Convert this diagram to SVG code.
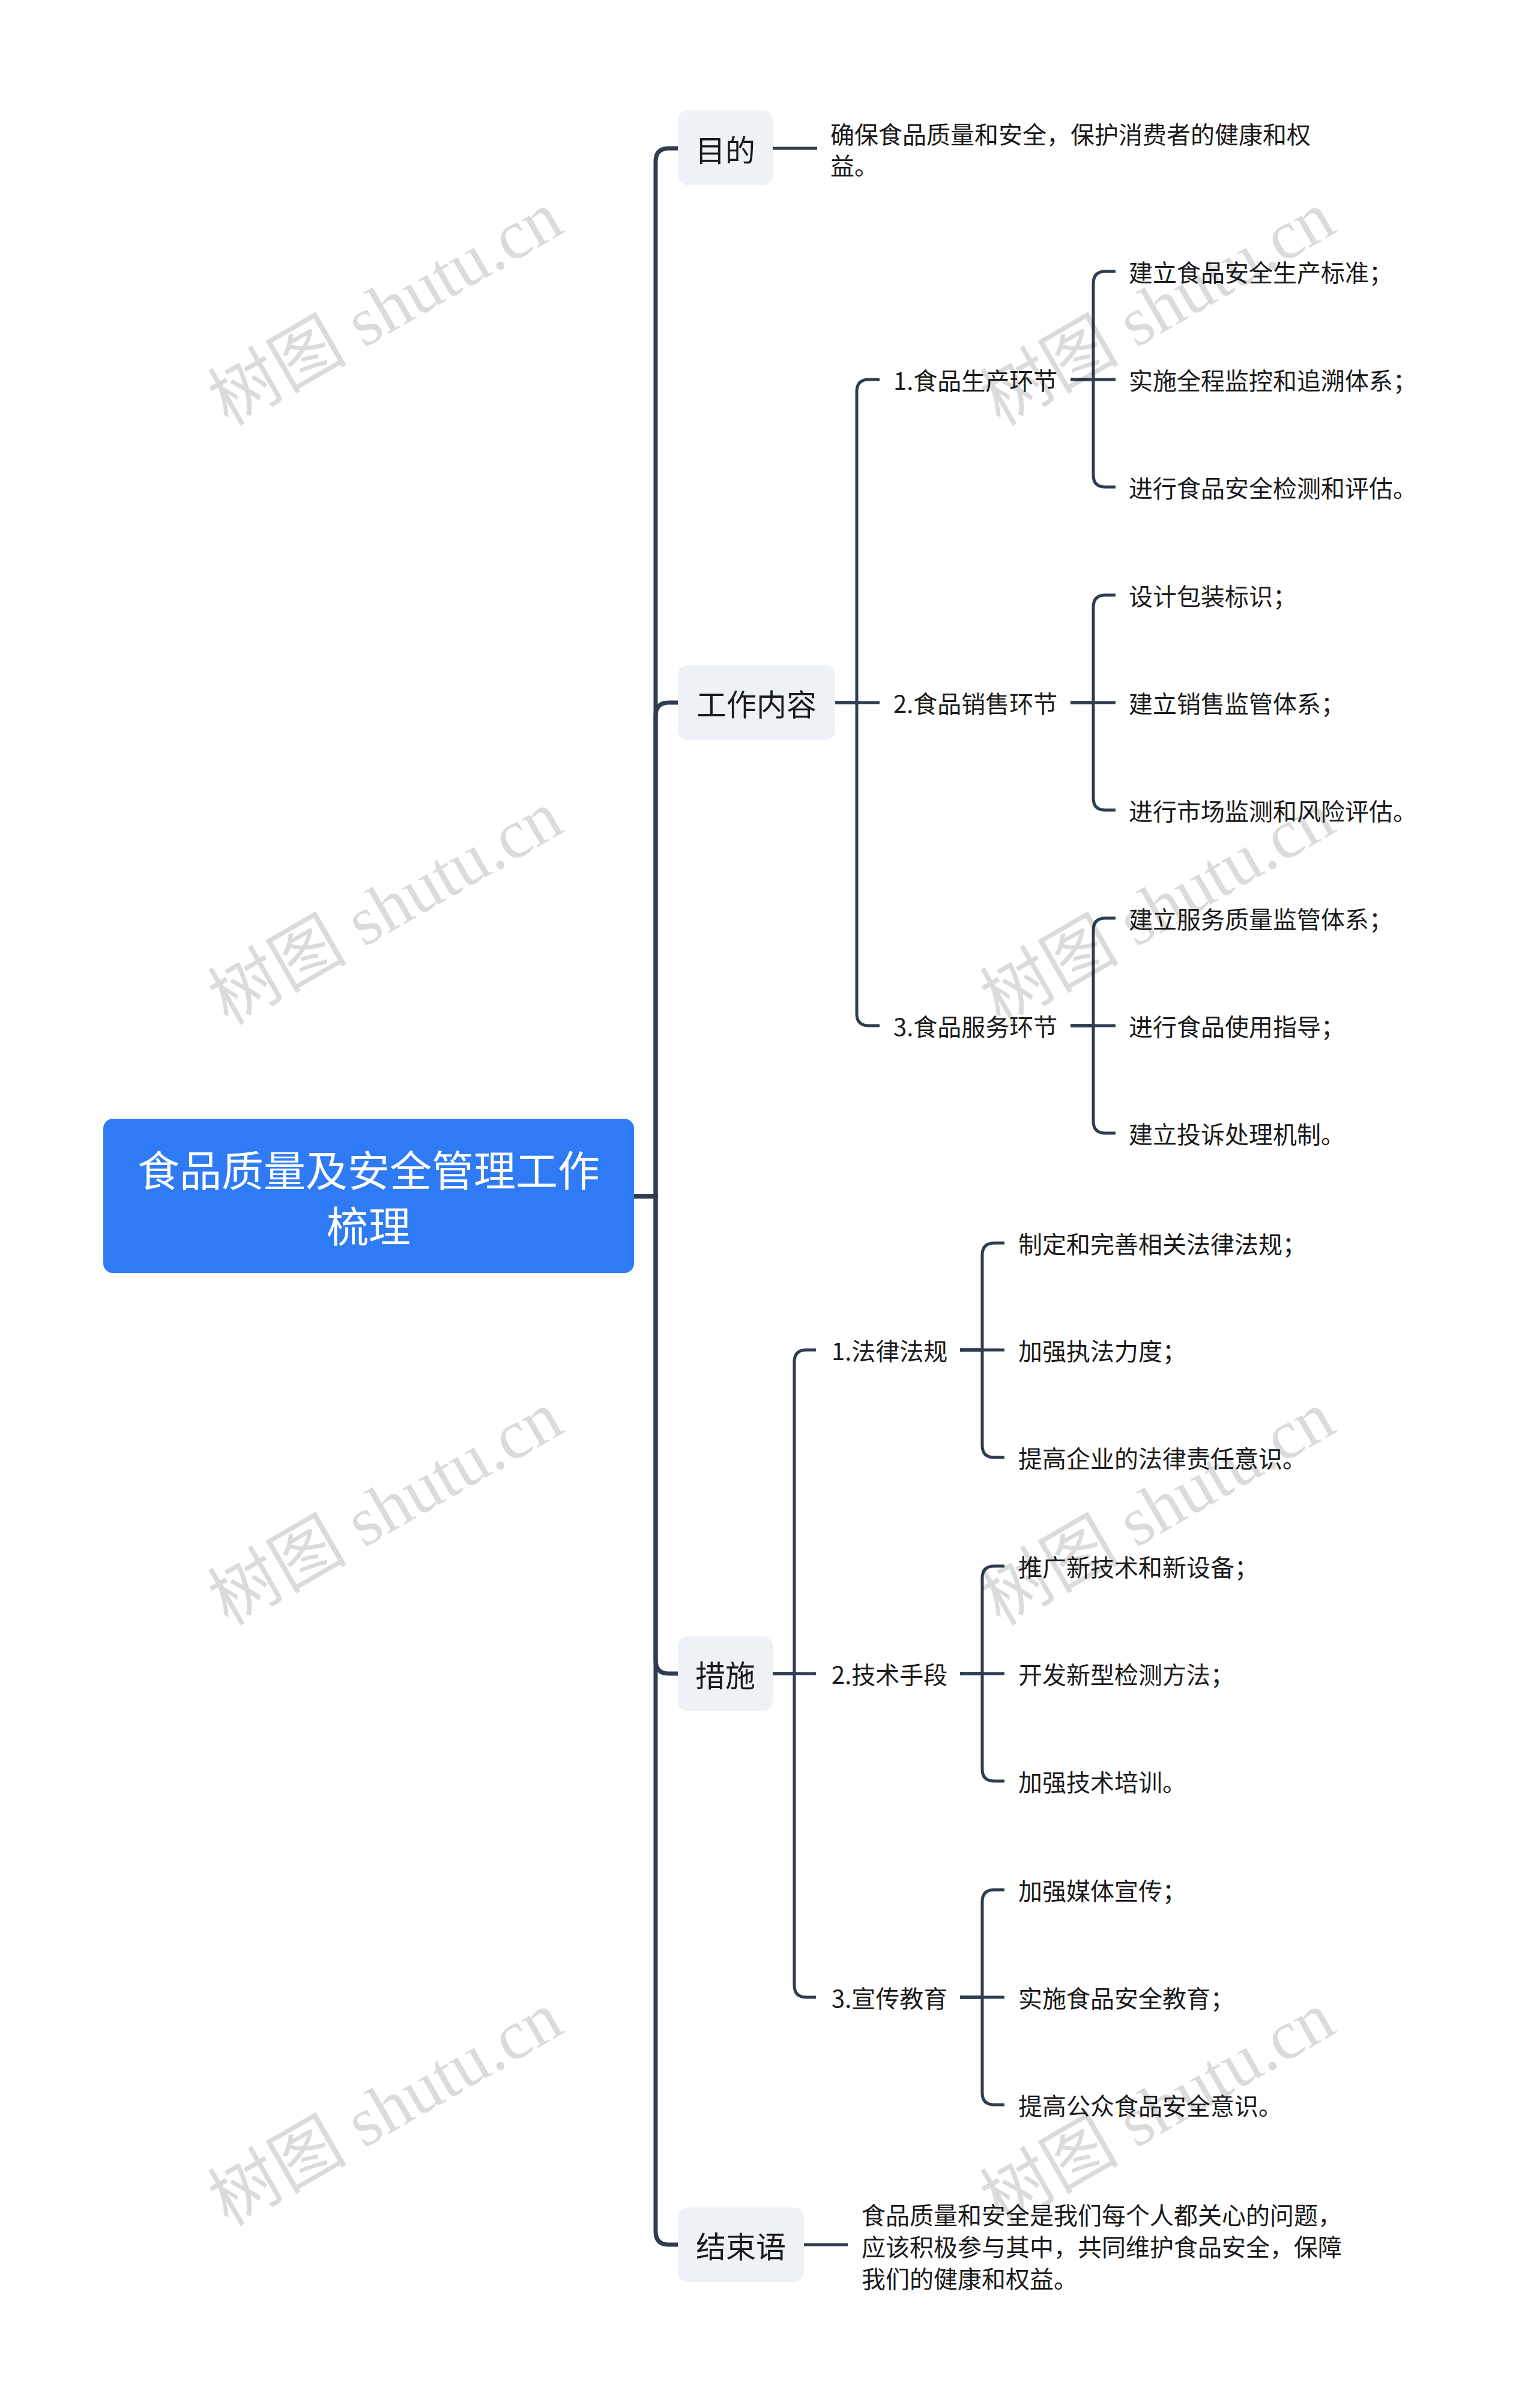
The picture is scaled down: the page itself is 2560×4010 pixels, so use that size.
<svg xmlns="http://www.w3.org/2000/svg" width="2560" height="4010" viewBox="0 0 2560 4010">
<defs>
<style>
.c7{fill:none;stroke:#2f3d50;stroke-width:7}
.c5{fill:none;stroke:#2f3d50;stroke-width:5}
.l1{fill:#eef1f5}
.t{font-family:"Noto Sans CJK SC","Noto Sans",sans-serif;fill:#1a1a1a;dominant-baseline:central}
.f40{font-size:40px}
.f50{font-size:50px}
.wm{font-family:"Liberation Serif","Noto Sans CJK SC",serif;font-size:116px;fill:#000;fill-opacity:0.14;text-anchor:middle;dominant-baseline:central}
</style>
</defs>
<rect width="2560" height="4010" fill="#ffffff"/>

<g id="connectors">
<path class="c7" d="M1056,1992 H1092 V269 Q1092,247 1114,247 H1129"/>
<path class="c7" d="M1056,1992 H1092 V1192 Q1092,1170 1114,1170 H1129"/>
<path class="c7" d="M1056,1992 H1092 V2765 Q1092,2787 1114,2787 H1129"/>
<path class="c7" d="M1056,1992 H1092 V3716 Q1092,3738 1114,3738 H1129"/>
<path class="c5" d="M1287,247 H1361"/>
<path class="c5" d="M1339,3738 H1412"/>
<path class="c5" d="M1391,1170 H1427 V652 Q1427,632 1447,632 H1465"/>
<path class="c5" d="M1391,1170 H1465"/>
<path class="c5" d="M1391,1170 H1427 V1688 Q1427,1708 1447,1708 H1465"/>
<path class="c5" d="M1783,632 H1821 V472 Q1821,452 1841,452 H1858"/>
<path class="c5" d="M1783,632 H1858"/>
<path class="c5" d="M1783,632 H1821 V791 Q1821,811 1841,811 H1858"/>
<path class="c5" d="M1783,1170 H1821 V1011 Q1821,991 1841,991 H1858"/>
<path class="c5" d="M1783,1170 H1858"/>
<path class="c5" d="M1783,1170 H1821 V1329 Q1821,1349 1841,1349 H1858"/>
<path class="c5" d="M1783,1708 H1821 V1549 Q1821,1529 1841,1529 H1858"/>
<path class="c5" d="M1783,1708 H1858"/>
<path class="c5" d="M1783,1708 H1821 V1867 Q1821,1887 1841,1887 H1858"/>
<path class="c5" d="M1287,2787 H1323 V2268 Q1323,2248 1343,2248 H1359"/>
<path class="c5" d="M1287,2787 H1359"/>
<path class="c5" d="M1287,2787 H1323 V3306 Q1323,3326 1343,3326 H1359"/>
<path class="c5" d="M1599,2248 H1636 V2090 Q1636,2070 1656,2070 H1673"/>
<path class="c5" d="M1599,2248 H1673"/>
<path class="c5" d="M1599,2248 H1636 V2407 Q1636,2427 1656,2427 H1673"/>
<path class="c5" d="M1599,2787 H1636 V2628 Q1636,2608 1656,2608 H1673"/>
<path class="c5" d="M1599,2787 H1673"/>
<path class="c5" d="M1599,2787 H1636 V2946 Q1636,2966 1656,2966 H1673"/>
<path class="c5" d="M1599,3326 H1636 V3167 Q1636,3147 1656,3147 H1673"/>
<path class="c5" d="M1599,3326 H1673"/>
<path class="c5" d="M1599,3326 H1636 V3485 Q1636,3505 1656,3505 H1673"/>
</g>

<g id="root">
<rect x="172" y="1863" width="884" height="257" rx="16" fill="#2f7bf5"/>
<text class="t" x="614" y="1945" font-size="70" text-anchor="middle" style="fill:#ffffff">食品质量及安全管理工作</text>
<text class="t" x="614" y="2038" font-size="70" text-anchor="middle" style="fill:#ffffff">梳理</text>
</g>

<g id="n-mudi">
<rect class="l1" x="1129" y="184" width="158" height="124" rx="16"/>
<text class="t f50" x="1208" y="247" text-anchor="middle">目的</text>
</g>
<g id="n-mudi-text">
<text class="t f40" x="1383" y="222">确保食品质量和安全，保护消费者的健康和权</text>
<text class="t f40" x="1383" y="274">益。</text>
</g>

<g id="n-gongzuo">
<rect class="l1" x="1129" y="1108" width="262" height="124" rx="16"/>
<text class="t f50" x="1260" y="1170" text-anchor="middle">工作内容</text>
</g>
<g id="n-g1"><text class="t f40" x="1488" y="632">1.食品生产环节</text></g>
<g id="n-g1a"><text class="t f40" x="1880" y="452">建立食品安全生产标准；</text></g>
<g id="n-g1b"><text class="t f40" x="1880" y="632">实施全程监控和追溯体系；</text></g>
<g id="n-g1c"><text class="t f40" x="1880" y="811">进行食品安全检测和评估。</text></g>
<g id="n-g2"><text class="t f40" x="1488" y="1170">2.食品销售环节</text></g>
<g id="n-g2a"><text class="t f40" x="1880" y="991">设计包装标识；</text></g>
<g id="n-g2b"><text class="t f40" x="1880" y="1170">建立销售监管体系；</text></g>
<g id="n-g2c"><text class="t f40" x="1880" y="1349">进行市场监测和风险评估。</text></g>
<g id="n-g3"><text class="t f40" x="1488" y="1708">3.食品服务环节</text></g>
<g id="n-g3a"><text class="t f40" x="1880" y="1529">建立服务质量监管体系；</text></g>
<g id="n-g3b"><text class="t f40" x="1880" y="1708">进行食品使用指导；</text></g>
<g id="n-g3c"><text class="t f40" x="1880" y="1887">建立投诉处理机制。</text></g>

<g id="n-cuoshi">
<rect class="l1" x="1129" y="2725" width="158" height="124" rx="16"/>
<text class="t f50" x="1208" y="2787" text-anchor="middle">措施</text>
</g>
<g id="n-c1"><text class="t f40" x="1385" y="2248">1.法律法规</text></g>
<g id="n-c1a"><text class="t f40" x="1696" y="2070">制定和完善相关法律法规；</text></g>
<g id="n-c1b"><text class="t f40" x="1696" y="2248">加强执法力度；</text></g>
<g id="n-c1c"><text class="t f40" x="1696" y="2427">提高企业的法律责任意识。</text></g>
<g id="n-c2"><text class="t f40" x="1385" y="2787">2.技术手段</text></g>
<g id="n-c2a"><text class="t f40" x="1696" y="2608">推广新技术和新设备；</text></g>
<g id="n-c2b"><text class="t f40" x="1696" y="2787">开发新型检测方法；</text></g>
<g id="n-c2c"><text class="t f40" x="1696" y="2966">加强技术培训。</text></g>
<g id="n-c3"><text class="t f40" x="1385" y="3326">3.宣传教育</text></g>
<g id="n-c3a"><text class="t f40" x="1696" y="3147">加强媒体宣传；</text></g>
<g id="n-c3b"><text class="t f40" x="1696" y="3326">实施食品安全教育；</text></g>
<g id="n-c3c"><text class="t f40" x="1696" y="3505">提高公众食品安全意识。</text></g>

<g id="n-jieshu">
<rect class="l1" x="1129" y="3676" width="210" height="124" rx="16"/>
<text class="t f50" x="1234" y="3738" text-anchor="middle">结束语</text>
</g>
<g id="n-jieshu-text">
<text class="t f40" x="1435" y="3687">食品质量和安全是我们每个人都关心的问题，</text>
<text class="t f40" x="1435" y="3740">应该积极参与其中，共同维护食品安全，保障</text>
<text class="t f40" x="1435" y="3793">我们的健康和权益。</text>
</g>

<g id="watermarks">
<text class="wm" x="642" y="514" transform="rotate(-30 642 514)">树图 shutu.cn</text>
<text class="wm" x="642" y="1512" transform="rotate(-30 642 1512)">树图 shutu.cn</text>
<text class="wm" x="642" y="2512" transform="rotate(-30 642 2512)">树图 shutu.cn</text>
<text class="wm" x="642" y="3512" transform="rotate(-30 642 3512)">树图 shutu.cn</text>
<text class="wm" x="1928" y="514" transform="rotate(-30 1928 514)">树图 shutu.cn</text>
<text class="wm" x="1928" y="1512" transform="rotate(-30 1928 1512)">树图 shutu.cn</text>
<text class="wm" x="1928" y="2512" transform="rotate(-30 1928 2512)">树图 shutu.cn</text>
<text class="wm" x="1928" y="3512" transform="rotate(-30 1928 3512)">树图 shutu.cn</text>
</g>
</svg>
